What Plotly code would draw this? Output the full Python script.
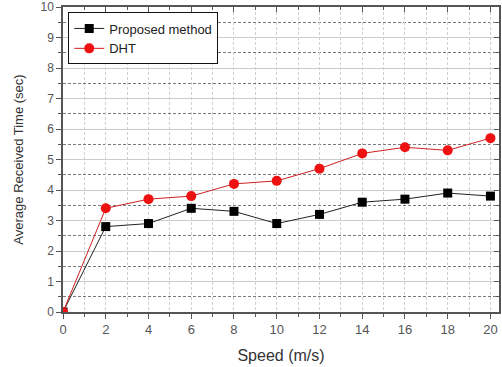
import plotly.graph_objects as go

speed = [0, 2, 4, 6, 8, 10, 12, 14, 16, 18, 20]
proposed = [0, 2.8, 2.9, 3.4, 3.3, 2.9, 3.2, 3.6, 3.7, 3.9, 3.8]
dht = [0, 3.4, 3.7, 3.8, 4.2, 4.3, 4.7, 5.2, 5.4, 5.3, 5.7]

fig = go.Figure()
fig.add_trace(go.Scatter(x=speed, y=proposed, name="Proposed method", mode="lines+markers",
                         line=dict(color="#222222", width=1),
                         marker=dict(symbol="square", size=9, color="black")))
fig.add_trace(go.Scatter(x=speed, y=dht, name="DHT", mode="lines+markers",
                         line=dict(color="#d02020", width=1),
                         marker=dict(symbol="circle", size=10, color="#ee1111")))

axcol = "#555555"
fig.update_layout(
    width=502, height=367,
    margin=dict(l=63, r=3, t=7, b=55, autoexpand=False),
    paper_bgcolor="white", plot_bgcolor="white",
    font=dict(family="Liberation Sans, Arial, sans-serif", color="#333333", size=12),
    showlegend=True,
    legend=dict(x=0.012, y=0.982, xanchor="left", yanchor="top",
                bordercolor="#111111", borderwidth=1, bgcolor="white",
                font=dict(size=13, color="#222222"),
                tracegroupgap=0, itemwidth=30),
    xaxis=dict(range=[0, 20.4], tickvals=[0, 2, 4, 6, 8, 10, 12, 14, 16, 18, 20],
               ticks="outside", ticklen=5, tickcolor=axcol, tickwidth=1,
               showline=True, linecolor=axcol, linewidth=1.5,
               showgrid=True, gridcolor="#cfcfcf", griddash="3px,2px", gridwidth=1,
               minor=dict(dtick=1, tick0=0, ticks="outside", ticklen=3, tickcolor=axcol,
                          showgrid=True, gridcolor="#cfcfcf", griddash="3px,2px", gridwidth=1),
               zeroline=False, automargin=False,
               title=dict(text="Speed (m/s)", font=dict(size=16, color="#333333"), standoff=13),
               tickfont=dict(size=13, color="#555555")),
    yaxis=dict(range=[0, 10], dtick=1, tick0=0,
               ticks="outside", ticklen=5, tickcolor=axcol, tickwidth=1,
               showline=True, linecolor=axcol, linewidth=1.5,
               showgrid=True, gridcolor="#cccccc", gridwidth=1,
               minor=dict(dtick=0.5, tick0=0, ticks="outside", ticklen=3, tickcolor=axcol,
                          showgrid=True, gridcolor="#7a7a7a", griddash="3px,2px", gridwidth=1),
               zeroline=False, automargin=False,
               title=dict(text="Average Received Time (sec)", font=dict(size=13, color="#333333"), standoff=14),
               tickfont=dict(size=12, color="#555555")),
    xaxis2=dict(overlaying="x", side="top", range=[0, 20.4],
                tickvals=[0, 2, 4, 6, 8, 10, 12, 14, 16, 18, 20],
                ticks="inside", ticklen=5, tickcolor=axcol, showticklabels=False,
                minor=dict(dtick=1, tick0=0, ticks="inside", ticklen=3, tickcolor=axcol),
                showline=True, linecolor=axcol, linewidth=1.5, showgrid=False, zeroline=False),
    yaxis2=dict(overlaying="y", side="right", range=[0, 10], dtick=1, tick0=0,
                ticks="inside", ticklen=5, tickcolor=axcol, showticklabels=False,
                minor=dict(dtick=0.5, tick0=0, ticks="inside", ticklen=3, tickcolor=axcol),
                showline=True, linecolor=axcol, linewidth=1.5, showgrid=False, zeroline=False),
)
fig.add_trace(go.Scatter(x=[None], y=[None], xaxis="x2", yaxis="y2", showlegend=False, hoverinfo="skip"))

fig.write_html("out.html", config={"displayModeBar": False},
               post_script="document.body.style.margin='0';document.body.style.overflow='hidden';")
